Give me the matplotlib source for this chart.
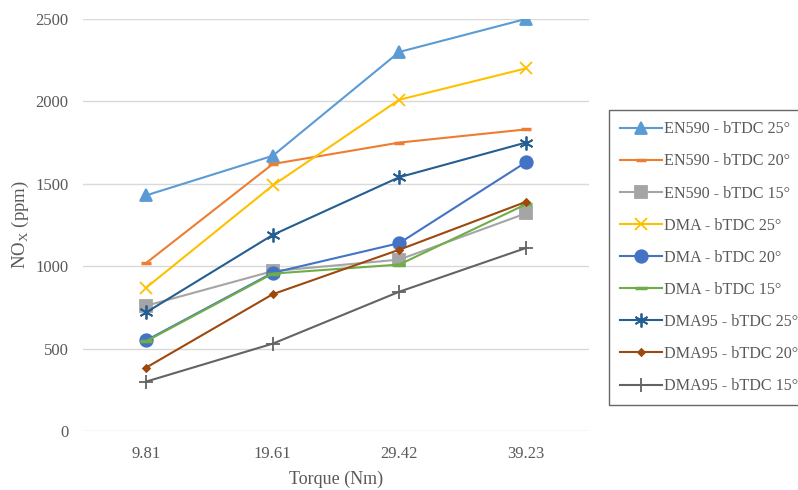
import matplotlib
matplotlib.use("Agg")
import matplotlib.pyplot as plt

plt.rcParams['font.family'] = ['Liberation Serif', 'DejaVu Serif']

torque = ["9.81", "19.61", "29.42", "39.23"]

en590_25 = [1430, 1670, 2300, 2500]
en590_20 = [1020, 1620, 1750, 1830]
en590_15 = [760, 970, 1040, 1320]
dma_25 = [870, 1490, 2010, 2200]
dma_20 = [550, 960, 1140, 1630]
dma_15 = [545, 955, 1010, 1375]
dma95_25 = [720, 1190, 1540, 1750]
dma95_20 = [385, 830, 1100, 1390]
dma95_15 = [300, 530, 845, 1110]

series = [
    ("EN590 - bTDC 25°", en590_25, "#5B9BD5", "^", 9),
    ("EN590 - bTDC 20°", en590_20, "#ED7D31", "_", 7),
    ("EN590 - bTDC 15°", en590_15, "#A5A5A5", "s", 8),
    ("DMA - bTDC 25°", dma_25, "#FFC000", "x", 9),
    ("DMA - bTDC 20°", dma_20, "#4472C4", "o", 9),
    ("DMA - bTDC 15°", dma_15, "#70AD47", "_", 8),
    ("DMA95 - bTDC 25°", dma95_25, "#255E91", (6, 2, 0), 10),
    ("DMA95 - bTDC 20°", dma95_20, "#9E480E", "D", 3.5),
    ("DMA95 - bTDC 15°", dma95_15, "#636363", "+", 10),
]

text_color = "#595959"

fig = plt.figure(figsize=(7.98, 4.9), dpi=100)
ax = fig.add_axes([83 / 798, 1 - 431 / 490, (589 - 83) / 798, (431 - 19) / 490])

x = list(range(len(torque)))
for label, vals, color, marker, ms in series:
    mew = 2.5 if marker == "_" else 1.3
    ax.plot(x, vals, color=color, marker=marker, markersize=ms, linewidth=1.5,
            markeredgewidth=mew, markerfacecolor=color, markeredgecolor=color,
            label=label)

ax.set_xlim(-0.5, 3.5)
ax.set_ylim(0, 2500)
ax.set_yticks(range(0, 2501, 500))
ax.set_xticks(x)
ax.set_xticklabels(torque)
ax.yaxis.grid(True, color="#D9D9D9", linewidth=1)
ax.set_axisbelow(True)
for side in ["top", "right", "left", "bottom"]:
    ax.spines[side].set_visible(False)
ax.tick_params(length=0, labelsize=12, labelcolor=text_color)
ax.tick_params(axis="y", pad=10.5)
ax.tick_params(axis="x", pad=11)

ax.set_xlabel("Torque (Nm)", fontsize=13, color=text_color, labelpad=6)
ax.set_ylabel("NO$_\\mathregular{X}$ (ppm)", fontsize=13.5, color=text_color, labelpad=3)

# legend sits to the right of the plot, running up to the figure edge
leg = fig.legend(loc="upper left", bbox_to_anchor=(609 / 798, 1 - 110 / 490),
                 fontsize=11.6, frameon=True, fancybox=False, handlelength=2.6,
                 labelspacing=1.0, borderpad=0.7, handletextpad=0.1,
                 borderaxespad=0)
leg.get_frame().set_edgecolor("#404040")
leg.get_frame().set_linewidth(1.0)
for t in leg.get_texts():
    t.set_color(text_color)

fig.savefig("out.png", dpi=100)
